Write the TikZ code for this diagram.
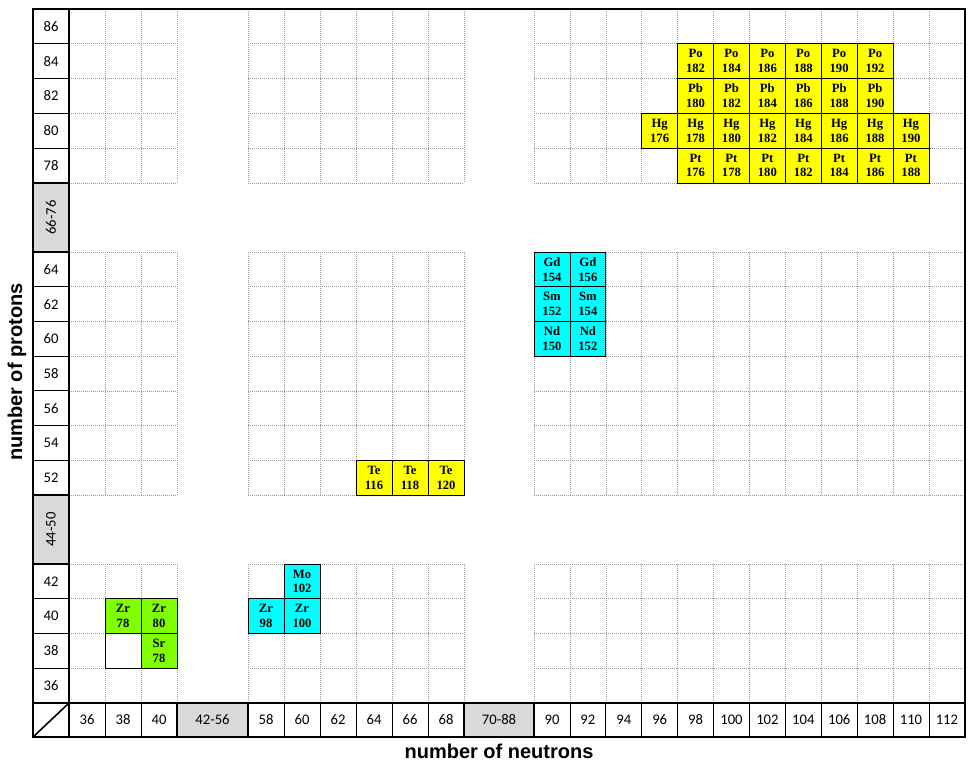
\documentclass[tikz,border=0pt]{standalone}
\usepackage{fontspec}
\setmainfont{Liberation Serif}
\newfontfamily\numfont{Carlito}
\newfontfamily\axfont{Liberation Sans}
\definecolor{cy}{HTML}{00FFFF}
\definecolor{ye}{HTML}{FFFF00}
\definecolor{gr}{HTML}{80FF00}
\definecolor{lg}{HTML}{D9D9D9}
\tikzset{
  grid/.style={gray!80, densely dotted, line width=0.5pt},
  thick frame/.style={line width=2pt},
  lab/.style={font=\numfont\fontsize{11}{12}\selectfont, inner sep=0pt},
  elem/.style={font=\bfseries\fontsize{9.5}{11}\selectfont, align=center, inner sep=0pt},
  cellbox/.style={draw=black, line width=0.6pt},
}
\newcommand\colL[1]{\pgfmathsetmacro\xl{#1<=40 ? 69+(#1-36)*18 : (#1<=68 ? 248+(#1-58)*18 : 534+(#1-90)*17.95)}}
\newcommand\rowT[1]{\pgfmathsetmacro\yt{#1>=78 ? 9+(86-#1)*17.4 : (#1>=52 ? 252+(64-#1)*17.36 : 564+(42-#1)*17.375)}}
\newcommand\isocell[5]{%
  \colL{#1}\rowT{#2}%
  \pgfmathsetmacro\xr{\xl+(#1<=68 ? 36 : 35.9)}%
  \pgfmathsetmacro\yb{\yt+34.7}%
  \path[cellbox, fill=#3] (\xl,\yt) rectangle (\xr,\yb);
  \node[elem] (c#1-#2) at ({(\xl+\xr)/2},{(\yt+\yb)/2}) {#4\\#5};
}
\begin{document}
\begin{tikzpicture}[x=0.75pt,y=-0.75pt]
\useasboundingbox (0,0) rectangle (980,769);
% grids
\foreach \x in {69,105,141,177} {\draw[grid] (\x,9)--(\x,183); \draw[grid] (\x,252)--(\x,495); \draw[grid] (\x,564)--(\x,703);}
\foreach \x in {248,284,320,356,392,428,464} {\draw[grid] (\x,9)--(\x,183); \draw[grid] (\x,252)--(\x,495); \draw[grid] (\x,564)--(\x,703);}
\foreach \i in {0,...,12} {\pgfmathsetmacro\x{534+\i*35.917}\draw[grid] (\x,9)--(\x,183); \draw[grid] (\x,252)--(\x,495); \draw[grid] (\x,564)--(\x,703);}
\foreach \i in {1,...,5} {\pgfmathsetmacro\y{9+\i*34.8}
  \draw[grid] (69,\y)--(177,\y); \draw[grid] (248,\y)--(464,\y); \draw[grid] (534,\y)--(965,\y);}
\foreach \i in {0,...,7} {\pgfmathsetmacro\y{252+\i*34.714}
  \draw[grid] (69,\y)--(177,\y); \draw[grid] (248,\y)--(464,\y); \draw[grid] (534,\y)--(965,\y);}
\foreach \i in {0,...,3} {\pgfmathsetmacro\y{564+\i*34.75}
  \draw[grid] (69,\y)--(177,\y); \draw[grid] (248,\y)--(464,\y); \draw[grid] (534,\y)--(965,\y);}
% colored cells
\foreach \n/\a in {98/182,100/184,102/186,104/188,106/190,108/192} {\isocell{\n}{84}{ye}{Po}{\a}}
\foreach \n/\a in {98/180,100/182,102/184,104/186,106/188,108/190} {\isocell{\n}{82}{ye}{Pb}{\a}}
\foreach \n/\a in {96/176,98/178,100/180,102/182,104/184,106/186,108/188,110/190} {\isocell{\n}{80}{ye}{Hg}{\a}}
\foreach \n/\a in {98/176,100/178,102/180,104/182,106/184,108/186,110/188} {\isocell{\n}{78}{ye}{Pt}{\a}}
\isocell{90}{64}{cy}{Gd}{154}\isocell{92}{64}{cy}{Gd}{156}
\isocell{90}{62}{cy}{Sm}{152}\isocell{92}{62}{cy}{Sm}{154}
\isocell{90}{60}{cy}{Nd}{150}\isocell{92}{60}{cy}{Nd}{152}
\isocell{64}{52}{ye}{Te}{116}\isocell{66}{52}{ye}{Te}{118}\isocell{68}{52}{ye}{Te}{120}
\isocell{60}{42}{cy}{Mo}{102}\isocell{58}{40}{cy}{Zr}{98}\isocell{60}{40}{cy}{Zr}{100}
\isocell{38}{40}{gr}{Zr}{78}\isocell{40}{40}{gr}{Zr}{80}\isocell{40}{38}{gr}{Sr}{78}
\isocell{38}{38}{white}{}{}
% left labels
\foreach \z in {86,84,82,80,78,64,62,60,58,56,54,52,42,40,38,36} {\rowT{\z}
  \draw[line width=0.6pt] (33,\yt+34.7)--(69,\yt+34.7);
  \node[lab] (p\z) at (51,\yt+17.4) {\z};}
\draw[fill=lg, line width=0.8pt] (33,183) rectangle (69,252);
\node[lab, rotate=90] (p66) at (51,217.5) {66-76};
\draw[fill=lg, line width=0.8pt] (33,495) rectangle (69,564);
\node[lab, rotate=90] (p44) at (51,529.5) {44-50};
% bottom labels
\foreach \n in {36,38,40,58,60,62,64,66,68,90,92,94,96,98,100,102,104,106,108,110,112} {\colL{\n}
  \draw[line width=0.6pt] (\xl,703)--(\xl,737);
  \node[lab] (n\n) at (\xl+18,720) {\n};}
\draw[fill=lg, line width=0.8pt] (177,703) rectangle (248,737);
\node[lab] (n42) at (212.5,720) {42-56};
\draw[fill=lg, line width=0.8pt] (464,703) rectangle (534,737);
\node[lab] (n70) at (499,720) {70-88};
% frame
\coordinate (bl) at (33,737); \coordinate (tr) at (69,703);
\draw[line width=1.2pt] (bl)--(tr);
\draw[thick frame] (33,9) rectangle (965,737);
\draw[thick frame] (69,9)--(69,737);
\draw[thick frame] (33,703)--(965,703);
% axis titles
\node[font=\axfont\bfseries\fontsize{15}{17}\selectfont] (xt) at (499,751) {number of neutrons};
\node[font=\axfont\bfseries\fontsize{15}{17}\selectfont, rotate=90] (yt) at (17,372) {number of protons};
\end{tikzpicture}
\end{document}
